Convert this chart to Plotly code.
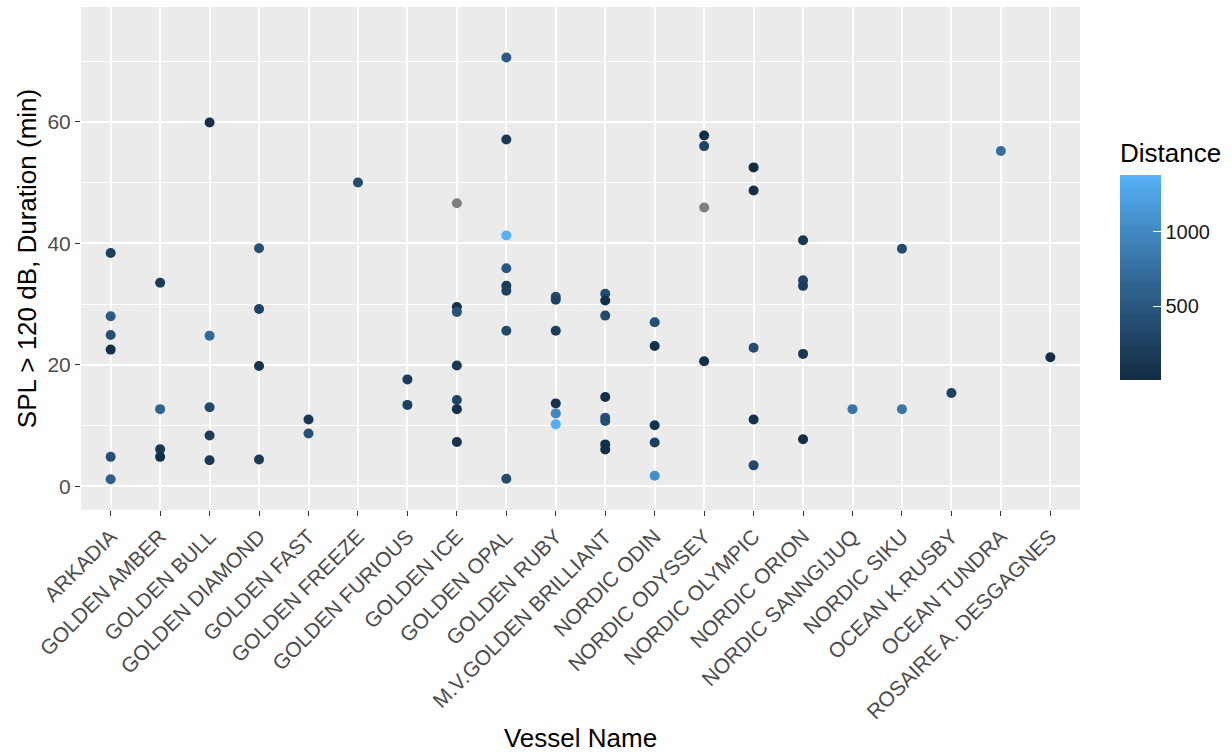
import numpy as np
import plotly.graph_objects as go

vessels = ["ARKADIA", "GOLDEN AMBER", "GOLDEN BULL", "GOLDEN DIAMOND", "GOLDEN FAST",
           "GOLDEN FREEZE", "GOLDEN FURIOUS", "GOLDEN ICE", "GOLDEN OPAL", "GOLDEN RUBY",
           "M.V.GOLDEN BRILLIANT", "NORDIC ODIN", "NORDIC ODYSSEY", "NORDIC OLYMPIC",
           "NORDIC ORION", "NORDIC SANNGIJUQ", "NORDIC SIKU", "OCEAN K.RUSBY",
           "OCEAN TUNDRA", "ROSAIRE A. DESGAGNES"]

# per-vessel durations (min) and distances (NaN = missing)
duration = {
    "ARKADIA": [38.4, 28.0, 24.9, 22.5, 4.85, 1.15],
    "GOLDEN AMBER": [33.5, 12.7, 6.1, 4.85],
    "GOLDEN BULL": [59.9, 24.8, 13.0, 8.35, 4.3],
    "GOLDEN DIAMOND": [39.2, 29.2, 19.8, 4.4],
    "GOLDEN FAST": [11.0, 8.7],
    "GOLDEN FREEZE": [50.0],
    "GOLDEN FURIOUS": [17.6, 13.4],
    "GOLDEN ICE": [46.6, 29.5, 28.7, 19.9, 14.2, 12.7, 7.3],
    "GOLDEN OPAL": [70.6, 57.1, 41.3, 35.9, 33.0, 32.2, 25.6, 1.25],
    "GOLDEN RUBY": [31.2, 30.7, 25.6, 13.65, 12.0, 10.2],
    "M.V.GOLDEN BRILLIANT": [31.7, 30.6, 28.1, 14.7, 11.3, 10.75, 6.9, 6.05],
    "NORDIC ODIN": [27.0, 23.1, 10.05, 7.2, 1.75],
    "NORDIC ODYSSEY": [57.75, 56.0, 45.9, 20.6],
    "NORDIC OLYMPIC": [52.5, 48.7, 22.8, 11.0, 3.45],
    "NORDIC ORION": [40.5, 33.9, 33.0, 21.8, 7.75],
    "NORDIC SANNGIJUQ": [12.7],
    "NORDIC SIKU": [39.1, 12.7],
    "OCEAN K.RUSBY": [15.35],
    "OCEAN TUNDRA": [55.2],
    "ROSAIRE A. DESGAGNES": [21.25],
}
nan = float("nan")
distance = {
    "ARKADIA": [250, 550, 420, 80, 420, 580],
    "GOLDEN AMBER": [200, 650, 150, 60],
    "GOLDEN BULL": [60, 680, 330, 200, 150],
    "GOLDEN DIAMOND": [420, 300, 100, 200],
    "GOLDEN FAST": [150, 420],
    "GOLDEN FREEZE": [380],
    "GOLDEN FURIOUS": [200, 250],
    "GOLDEN ICE": [nan, 60, 450, 150, 300, 80, 100],
    "GOLDEN OPAL": [550, 180, 1380, 500, 200, 250, 350, 380],
    "GOLDEN RUBY": [380, 280, 200, 80, 1000, 1350],
    "M.V.GOLDEN BRILLIANT": [380, 50, 350, 60, 420, 380, 60, 50],
    "NORDIC ODIN": [400, 70, 90, 250, 1050],
    "NORDIC ODYSSEY": [40, 300, nan, 60],
    "NORDIC OLYMPIC": [13, 60, 380, 60, 350],
    "NORDIC ORION": [150, 300, 200, 150, 40],
    "NORDIC SANNGIJUQ": [800],
    "NORDIC SIKU": [380, 820],
    "OCEAN K.RUSBY": [280],
    "OCEAN TUNDRA": [750],
    "ROSAIRE A. DESGAGNES": [60],
}

y_ticks = [0, 20, 40, 60]
cbar_ticks = [500, 1000]

# ---- Lab interpolation like ggplot's scale_colour_gradient ----
def srgb_to_lin(c):
    c = c / 255.0
    return np.where(c <= 0.04045, c / 12.92, ((c + 0.055) / 1.055) ** 2.4)

def lin_to_srgb(c):
    c = np.clip(c, 0, 1)
    v = np.where(c <= 0.0031308, 12.92 * c, 1.055 * c ** (1 / 2.4) - 0.055)
    return np.clip(np.round(v * 255), 0, 255)

M = np.array([[0.4124, 0.3576, 0.1805], [0.2126, 0.7152, 0.0722], [0.0193, 0.1192, 0.9505]])
Minv = np.linalg.inv(M)
WHITE = np.array([0.95047, 1.0, 1.08883])

def f(t):
    d = 6 / 29
    return np.where(t > d ** 3, np.cbrt(t), t / (3 * d * d) + 4 / 29)

def finv(t):
    d = 6 / 29
    return np.where(t > d, t ** 3, 3 * d * d * (t - 4 / 29))

def hex_to_lab(h):
    rgb = np.array([int(h[i:i + 2], 16) for i in (1, 3, 5)], dtype=float)
    xyz = M @ srgb_to_lin(rgb) / WHITE
    fx, fy, fz = f(xyz)
    return np.array([116 * fy - 16, 500 * (fx - fy), 200 * (fy - fz)])

def lab_to_rgbstr(lab):
    L, a, b = lab
    fy = (L + 16) / 116
    fx = fy + a / 500
    fz = fy - b / 200
    xyz = finv(np.array([fx, fy, fz])) * WHITE
    rgb = lin_to_srgb(Minv @ xyz)
    return "rgb(%d,%d,%d)" % tuple(rgb)

lo, hi = hex_to_lab("#132B43"), hex_to_lab("#56B1F7")
colorscale = [[t, lab_to_rgbstr(lo + (hi - lo) * t)] for t in np.linspace(0, 1, 21)]

xs, ys, cs, nx, ny = [], [], [], [], []
for v in vessels:
    for d, c in zip(duration[v], distance[v]):
        if np.isnan(c):
            nx.append(v); ny.append(d)
        else:
            xs.append(v); ys.append(d); cs.append(c)

FONT = "Liberation Sans, Arial"
fig = go.Figure()
fig.add_trace(go.Scatter(
    x=xs, y=ys, mode="markers",
    marker=dict(size=10, color=cs, colorscale=colorscale, showscale=True,
                colorbar=dict(
                    title=dict(text="Distance", side="top",
                               font=dict(family=FONT, size=26, color="black")),
                    x=1.04, xanchor="left", xpad=0, ypad=0,
                    y=(512 - 381) / 505, yanchor="bottom",
                    len=240, lenmode="pixels", thickness=41, thicknessmode="pixels",
                    outlinewidth=0, tickvals=cbar_ticks, ticks="inside",
                    tickcolor="white", ticklen=8, tickwidth=1,
                    tickprefix="\u00a0\u00a0\u00a0",
                    tickfont=dict(family=FONT, size=20, color="#1A1A1A"))),
    showlegend=False, hoverinfo="x+y"))
fig.add_trace(go.Scatter(
    x=nx, y=ny, mode="markers",
    marker=dict(size=10, color="#7F7F7F"), showlegend=False))

fig.update_layout(
    width=1232, height=755,
    margin=dict(l=80.6, r=152, t=7, b=243),
    plot_bgcolor="#EBEBEB", paper_bgcolor="white",
    font=dict(family=FONT, color="#4D4D4D"),
)
fig.update_xaxes(
    type="category", categoryorder="array", categoryarray=vessels,
    range=[-0.6, 19.6], showgrid=True, gridcolor="white", gridwidth=1.6,
    zeroline=False, ticks="outside", ticklen=5, tickwidth=1.3, tickcolor="#333333",
    tickangle=-45, tickfont=dict(size=21, color="#4D4D4D"),
    title=dict(text="Vessel Name", font=dict(size=26, color="black"), standoff=6),
)
fig.update_yaxes(
    range=[-3.9, 78.9], tickvals=y_ticks, showgrid=True, gridcolor="white", gridwidth=1.6,
    minor=dict(dtick=10, tick0=0, showgrid=True, gridcolor="white", gridwidth=0.7, ticks=""),
    zeroline=False, ticks="outside", ticklen=5, tickwidth=1.3, tickcolor="#333333",
    tickfont=dict(size=21, color="#4D4D4D"),
    title=dict(text="SPL > 120 dB, Duration (min)", font=dict(size=26, color="black"), standoff=3),
)

fig.write_html("out.html", config={"displayModeBar": False},
               post_script="document.body.style.margin='0px';")
